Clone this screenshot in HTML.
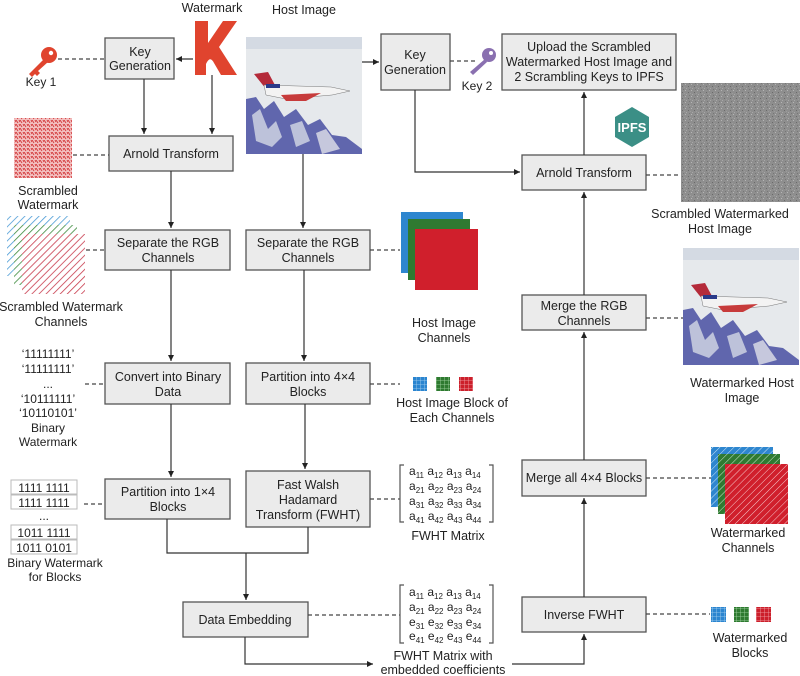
<!DOCTYPE html>
<html><head><meta charset="utf-8"><style>
html,body{margin:0;padding:0;background:#fff;}
svg{display:block;font-family:"Liberation Sans",sans-serif;}
.b{fill:#ebebeb;stroke:#555;stroke-width:1.3;}
.t{font-size:12.5px;fill:#222;text-anchor:middle;}
.l{stroke:#333;stroke-width:1.2;fill:none;}
.d{stroke:#444;stroke-width:1.2;fill:none;stroke-dasharray:4,3;}
.m{font-size:12px;fill:#222;}
</style></head><body>
<svg width="800" height="676" viewBox="0 0 800 676" xmlns="http://www.w3.org/2000/svg">
<defs>
<marker id="a" markerWidth="6" markerHeight="6" refX="5" refY="3" orient="auto"><path d="M0,0.5 L5,3 L0,5.5z" fill="#222"/></marker>
<pattern id="hb" width="5" height="5" patternUnits="userSpaceOnUse" patternTransform="rotate(45)"><rect width="5" height="5" fill="#fff"/><line x1="0" y1="0" x2="0" y2="5" stroke="#4a9bd6" stroke-width="1.6"/></pattern>
<pattern id="hg" width="5" height="5" patternUnits="userSpaceOnUse" patternTransform="rotate(45)"><rect width="5" height="5" fill="#fff"/><line x1="0" y1="0" x2="0" y2="5" stroke="#3c8a3c" stroke-width="1.6"/></pattern>
<pattern id="hr" width="5" height="5" patternUnits="userSpaceOnUse" patternTransform="rotate(45)"><rect width="5" height="5" fill="#fff"/><line x1="0" y1="0" x2="0" y2="5" stroke="#c83a4c" stroke-width="1.6"/></pattern>
<pattern id="sb" width="5" height="5" patternUnits="userSpaceOnUse" patternTransform="rotate(45)"><rect width="5" height="5" fill="#2e86cf"/><line x1="0" y1="0" x2="0" y2="5" stroke="#cfe6f7" stroke-width="1"/></pattern>
<pattern id="sg" width="5" height="5" patternUnits="userSpaceOnUse" patternTransform="rotate(45)"><rect width="5" height="5" fill="#2f7a31"/><line x1="0" y1="0" x2="0" y2="5" stroke="#cfe8cf" stroke-width="1"/></pattern>
<pattern id="sr" width="5" height="5" patternUnits="userSpaceOnUse" patternTransform="rotate(45)"><rect width="5" height="5" fill="#d01f2c"/><line x1="0" y1="0" x2="0" y2="5" stroke="#f6c8cc" stroke-width="1"/></pattern>
<pattern id="sc" width="4" height="4" patternUnits="userSpaceOnUse"><rect width="4" height="4" fill="#f3c0c0"/><path d="M0,0 L2,3 M3,0 L4,2" stroke="#d43e40" stroke-width="1"/></pattern>
<pattern id="gb" width="4" height="4" patternUnits="userSpaceOnUse"><rect width="4" height="4" fill="#2b85d0"/><path d="M0,0H4M0,0V4" stroke="#a9d2f0" stroke-width="0.8"/></pattern>
<pattern id="gg" width="4" height="4" patternUnits="userSpaceOnUse"><rect width="4" height="4" fill="#2e7a30"/><path d="M0,0H4M0,0V4" stroke="#a9d9a9" stroke-width="0.8"/></pattern>
<pattern id="gr" width="4" height="4" patternUnits="userSpaceOnUse"><rect width="4" height="4" fill="#cc1f2b"/><path d="M0,0H4M0,0V4" stroke="#f2a9ae" stroke-width="0.8"/></pattern>
<pattern id="nz" width="6" height="6" patternUnits="userSpaceOnUse"><rect width="6" height="6" fill="#8e8e8e"/><rect x="1" y="0" width="1" height="1" fill="#b5b5b5"/><rect x="4" y="2" width="1" height="1" fill="#6a6a6a"/><rect x="2" y="4" width="1" height="1" fill="#a8a8a8"/><rect x="5" y="5" width="1" height="1" fill="#777"/><rect x="0" y="3" width="1" height="1" fill="#9c9c9c"/></pattern>
<g id="host">
<rect x="0" y="0" width="116" height="117" fill="#e6e9ec"/>
<rect x="0" y="0" width="116" height="12" fill="#d4dae3"/>
<polygon points="0,62 10,60 18,72 28,64 38,80 50,72 62,88 74,82 86,98 100,100 116,112 116,117 0,117" fill="#6066ad"/>
<polygon points="6,78 14,72 22,92 30,84 36,100 26,110 10,104" fill="#e6e9ec" opacity="0.7"/>
<polygon points="44,88 56,84 64,104 50,110" fill="#e6e9ec" opacity="0.7"/>
<polygon points="70,96 80,92 94,112 76,117" fill="#e8eaee" opacity="0.75"/>
<polygon points="8,37 22,35 30,50 20,52" fill="#b42a3a"/>
<path d="M18,48 L85,50 L104,54 L86,58 L40,62 L20,58z" fill="#f3f3f3" stroke="#777" stroke-width="0.5"/>
<path d="M35,58 L75,56 L60,64 L40,64z" fill="#c73b3b"/>
<rect x="20" y="47" width="14" height="4" fill="#2a3a8a"/>
</g>
</defs>

<text x="212" y="12" class="t">Watermark</text>
<text x="304" y="14" class="t">Host Image</text>

<path d="M195,21 H208 V43 L223,21 H237 L219,47 L237,75 H221 L214,63 Q210,55 206,64 V75 H195 Z" fill="#e0442e"/>

<g fill="#e0442e"><circle cx="49" cy="55" r="8"/><path d="M44,59 L29,74 L32,77 L35,74 L37,76 L40,73 L38,71 L48,62z"/></g>
<circle cx="51" cy="53" r="2.2" fill="#fff"/>
<text x="41" y="86" class="t" style="font-size:12px">Key 1</text>
<line x1="58" y1="59" x2="105" y2="59" class="d"/>

<use href="#host" x="246" y="37"/>

<rect x="105" y="38" width="69" height="41" class="b"/>
<text x="140" y="56" class="t">Key</text><text x="140" y="70" class="t">Generation</text>
<rect x="109" y="136" width="124" height="35" class="b"/>
<text x="171" y="158" class="t">Arnold Transform</text>
<rect x="105" y="230" width="125" height="40" class="b"/>
<text x="168" y="247" class="t">Separate the RGB</text><text x="168" y="262" class="t">Channels</text>
<rect x="246" y="230" width="124" height="40" class="b"/>
<text x="308" y="247" class="t">Separate the RGB</text><text x="308" y="262" class="t">Channels</text>
<rect x="105" y="363" width="125" height="41" class="b"/>
<text x="168" y="381" class="t">Convert into Binary</text><text x="168" y="396" class="t">Data</text>
<rect x="246" y="363" width="124" height="41" class="b"/>
<text x="308" y="381" class="t">Partition into 4×4</text><text x="308" y="396" class="t">Blocks</text>
<rect x="105" y="479" width="125" height="40" class="b"/>
<text x="168" y="496" class="t">Partition into 1×4</text><text x="168" y="511" class="t">Blocks</text>
<rect x="246" y="471" width="124" height="56" class="b"/>
<text x="308" y="489" class="t">Fast Walsh</text><text x="308" y="504" class="t">Hadamard</text><text x="308" y="519" class="t">Transform (FWHT)</text>
<rect x="183" y="602" width="125" height="35" class="b"/>
<text x="245" y="624" class="t">Data Embedding</text>

<rect x="381" y="34" width="69" height="56" class="b"/>
<text x="415" y="59" class="t">Key</text><text x="415" y="74" class="t">Generation</text>
<rect x="502" y="34" width="174" height="56" class="b"/>
<text x="589" y="51" class="t">Upload the Scrambled</text><text x="589" y="66" class="t">Watermarked Host Image and</text><text x="589" y="81" class="t">2 Scrambling Keys to IPFS</text>
<rect x="522" y="155" width="124" height="35" class="b"/>
<text x="584" y="177" class="t">Arnold Transform</text>
<rect x="522" y="295" width="124" height="35" class="b"/>
<text x="584" y="310" class="t">Merge the RGB</text><text x="584" y="325" class="t">Channels</text>
<rect x="522" y="460" width="124" height="36" class="b"/>
<text x="584" y="482" class="t">Merge all 4×4 Blocks</text>
<rect x="522" y="597" width="124" height="35" class="b"/>
<text x="584" y="619" class="t">Inverse FWHT</text>

<line x1="193" y1="59" x2="176" y2="59" class="l" marker-end="url(#a)"/>
<line x1="144" y1="79" x2="144" y2="134" class="l" marker-end="url(#a)"/>
<line x1="212" y1="75" x2="212" y2="134" class="l" marker-end="url(#a)"/>
<line x1="171" y1="171" x2="171" y2="228" class="l" marker-end="url(#a)"/>
<line x1="303" y1="154" x2="303" y2="228" class="l" marker-end="url(#a)"/>
<line x1="171" y1="270" x2="171" y2="361" class="l" marker-end="url(#a)"/>
<line x1="304" y1="270" x2="304" y2="361" class="l" marker-end="url(#a)"/>
<line x1="171" y1="404" x2="171" y2="477" class="l" marker-end="url(#a)"/>
<line x1="305" y1="404" x2="305" y2="469" class="l" marker-end="url(#a)"/>
<polyline points="167,519 167,553 308,553 308,527" class="l"/>
<line x1="246" y1="553" x2="246" y2="600" class="l" marker-end="url(#a)"/>
<polyline points="245,637 245,664 373,664" class="l" marker-end="url(#a)"/>
<polyline points="512,664 584,664 584,634" class="l" marker-end="url(#a)"/>
<line x1="584" y1="597" x2="584" y2="498" class="l" marker-end="url(#a)"/>
<line x1="584" y1="460" x2="584" y2="332" class="l" marker-end="url(#a)"/>
<line x1="584" y1="295" x2="584" y2="192" class="l" marker-end="url(#a)"/>
<line x1="584" y1="155" x2="584" y2="92" class="l" marker-end="url(#a)"/>
<line x1="362" y1="62" x2="379" y2="62" class="l" marker-end="url(#a)"/>
<polyline points="415,90 415,172 520,172" class="l" marker-end="url(#a)"/>

<line x1="450" y1="61" x2="475" y2="61" class="d"/>
<line x1="73" y1="155" x2="109" y2="155" class="d"/>
<line x1="86" y1="250" x2="105" y2="250" class="d"/>
<line x1="370" y1="250" x2="400" y2="250" class="d"/>
<line x1="85" y1="384" x2="105" y2="384" class="d"/>
<line x1="370" y1="384" x2="400" y2="384" class="d"/>
<line x1="84" y1="504" x2="105" y2="504" class="d"/>
<line x1="370" y1="499" x2="400" y2="499" class="d"/>
<line x1="308" y1="615" x2="400" y2="615" class="d"/>
<line x1="646" y1="175" x2="681" y2="175" class="d"/>
<line x1="646" y1="318" x2="683" y2="318" class="d"/>
<line x1="646" y1="478" x2="713" y2="478" class="d"/>
<line x1="646" y1="614" x2="710" y2="614" class="d"/>

<g fill="#8a70b0"><circle cx="489" cy="55" r="7"/><path d="M485,59 L470,72 L473,75 L487,62z"/></g>
<circle cx="491" cy="53" r="2" fill="#fff"/>
<text x="477" y="90" class="t" style="font-size:12px">Key 2</text>

<polygon points="632,107 649,117 649,137 632,147 615,137 615,117" fill="#3b8f86"/>
<text x="632" y="132" class="t" style="font-size:13px;fill:#fff;font-weight:bold">IPFS</text>

<rect x="14" y="118" width="58" height="60" fill="url(#sc)"/>
<text x="48" y="195" class="t">Scrambled</text><text x="48" y="209" class="t">Watermark</text>
<rect x="7" y="216" width="63" height="60" fill="url(#hb)"/>
<rect x="14" y="225" width="63" height="60" fill="url(#hg)"/>
<rect x="22" y="234" width="63" height="60" fill="url(#hr)"/>
<text x="61" y="311" class="t">Scrambled Watermark</text><text x="61" y="326" class="t">Channels</text>

<g class="t" style="font-size:12px">
<text x="48" y="358">‘11111111’</text><text x="48" y="373">‘11111111’</text><text x="48" y="388">...</text>
<text x="48" y="403">‘10111111’</text><text x="48" y="417">‘10110101’</text>
<text x="48" y="432">Binary</text><text x="48" y="446">Watermark</text>
</g>
<g stroke="#bbb" fill="#fff" stroke-width="1">
<rect x="11" y="480" width="66" height="14"/><rect x="11" y="495" width="66" height="14"/>
<rect x="11" y="525" width="66" height="14"/><rect x="11" y="540" width="66" height="14"/>
</g>
<g class="t" style="font-size:12px">
<text x="44" y="492">1111 1111</text><text x="44" y="507">1111 1111</text><text x="44" y="520">...</text>
<text x="44" y="537">1011 1111</text><text x="44" y="552">1011 0101</text>
<text x="55" y="567">Binary Watermark</text><text x="55" y="581">for Blocks</text>
</g>

<rect x="401" y="212" width="62" height="61" fill="#2e86cf"/>
<rect x="408" y="219" width="62" height="61" fill="#2f7a31"/>
<rect x="415" y="229" width="63" height="61" fill="#d01f2c"/>
<text x="444" y="327" class="t">Host Image</text><text x="444" y="342" class="t">Channels</text>
<rect x="413" y="377" width="14" height="14" fill="url(#gb)"/>
<rect x="436" y="377" width="14" height="14" fill="url(#gg)"/>
<rect x="459" y="377" width="14" height="14" fill="url(#gr)"/>
<text x="452" y="407" class="t">Host Image Block of</text><text x="452" y="422" class="t">Each Channels</text>

<path d="M404,465 H400 V522 H404 M489,465 H493 V522 H489" class="l" style="stroke:#555"/>
<g class="m">
<text x="409" y="475">a<tspan font-size="8" dy="3">11</tspan><tspan dy="-3"> a</tspan><tspan font-size="8" dy="3">12</tspan><tspan dy="-3"> a</tspan><tspan font-size="8" dy="3">13</tspan><tspan dy="-3"> a</tspan><tspan font-size="8" dy="3">14</tspan></text>
<text x="409" y="490">a<tspan font-size="8" dy="3">21</tspan><tspan dy="-3"> a</tspan><tspan font-size="8" dy="3">22</tspan><tspan dy="-3"> a</tspan><tspan font-size="8" dy="3">23</tspan><tspan dy="-3"> a</tspan><tspan font-size="8" dy="3">24</tspan></text>
<text x="409" y="505">a<tspan font-size="8" dy="3">31</tspan><tspan dy="-3"> a</tspan><tspan font-size="8" dy="3">32</tspan><tspan dy="-3"> a</tspan><tspan font-size="8" dy="3">33</tspan><tspan dy="-3"> a</tspan><tspan font-size="8" dy="3">34</tspan></text>
<text x="409" y="520">a<tspan font-size="8" dy="3">41</tspan><tspan dy="-3"> a</tspan><tspan font-size="8" dy="3">42</tspan><tspan dy="-3"> a</tspan><tspan font-size="8" dy="3">43</tspan><tspan dy="-3"> a</tspan><tspan font-size="8" dy="3">44</tspan></text>
</g>
<text x="448" y="540" class="t">FWHT Matrix</text>
<path d="M404,585 H400 V643 H404 M489,585 H493 V643 H489" class="l" style="stroke:#555"/>
<g class="m">
<text x="409" y="596">a<tspan font-size="8" dy="3">11</tspan><tspan dy="-3"> a</tspan><tspan font-size="8" dy="3">12</tspan><tspan dy="-3"> a</tspan><tspan font-size="8" dy="3">13</tspan><tspan dy="-3"> a</tspan><tspan font-size="8" dy="3">14</tspan></text>
<text x="409" y="611">a<tspan font-size="8" dy="3">21</tspan><tspan dy="-3"> a</tspan><tspan font-size="8" dy="3">22</tspan><tspan dy="-3"> a</tspan><tspan font-size="8" dy="3">23</tspan><tspan dy="-3"> a</tspan><tspan font-size="8" dy="3">24</tspan></text>
<text x="409" y="626">e<tspan font-size="8" dy="3">31</tspan><tspan dy="-3"> e</tspan><tspan font-size="8" dy="3">32</tspan><tspan dy="-3"> e</tspan><tspan font-size="8" dy="3">33</tspan><tspan dy="-3"> e</tspan><tspan font-size="8" dy="3">34</tspan></text>
<text x="409" y="640">e<tspan font-size="8" dy="3">41</tspan><tspan dy="-3"> e</tspan><tspan font-size="8" dy="3">42</tspan><tspan dy="-3"> e</tspan><tspan font-size="8" dy="3">43</tspan><tspan dy="-3"> e</tspan><tspan font-size="8" dy="3">44</tspan></text>
</g>
<text x="443" y="660" class="t">FWHT Matrix with</text><text x="443" y="674" class="t">embedded coefficients</text>

<rect x="681" y="83" width="119" height="119" fill="url(#nz)"/>
<text x="720" y="218" class="t">Scrambled Watermarked</text><text x="720" y="233" class="t">Host Image</text>
<use href="#host" x="683" y="248"/>
<text x="742" y="387" class="t">Watermarked Host</text><text x="742" y="402" class="t">Image</text>
<rect x="711" y="447" width="62" height="60" fill="url(#sb)"/>
<rect x="718" y="454" width="62" height="60" fill="url(#sg)"/>
<rect x="725" y="464" width="63" height="60" fill="url(#sr)"/>
<text x="748" y="537" class="t">Watermarked</text><text x="748" y="552" class="t">Channels</text>
<rect x="711" y="607" width="15" height="15" fill="url(#gb)"/>
<rect x="734" y="607" width="15" height="15" fill="url(#gg)"/>
<rect x="756" y="607" width="15" height="15" fill="url(#gr)"/>
<text x="750" y="642" class="t">Watermarked</text><text x="750" y="657" class="t">Blocks</text>
</svg>
</body></html>
